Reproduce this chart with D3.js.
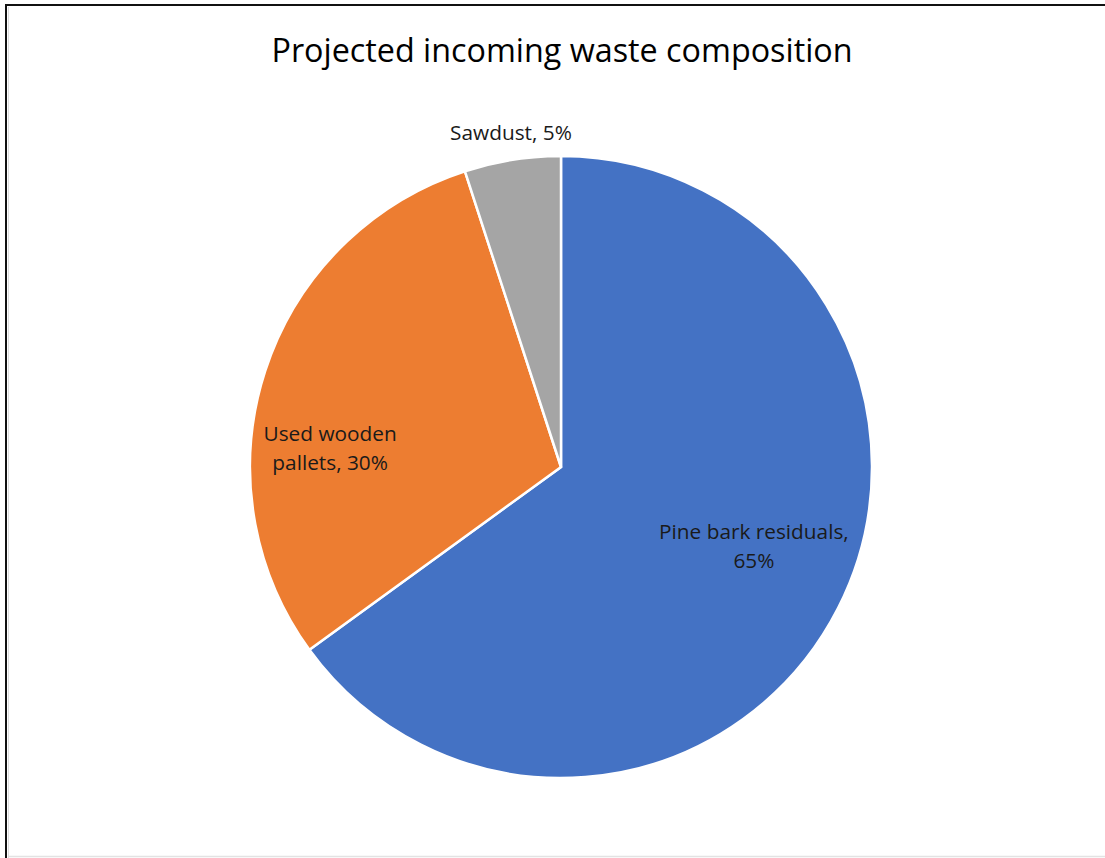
<!DOCTYPE html>
<html><head><meta charset="utf-8">
<script src="https://cdn.jsdelivr.net/npm/d3@7"></script>
<style>html,body{margin:0;padding:0;background:#fff;}svg{display:block;}</style>
</head><body>
<svg id="chart" width="1105" height="858"></svg>
<script>
const categories = ["Pine bark residuals", "Used wooden pallets", "Sawdust"];
const values = [65, 30, 5];
const colors = ["#4472C4", "#ED7D31", "#A5A5A5"];
const labelLines = [["Pine bark residuals,", "65%"], ["Used wooden", "pallets, 30%"], ["Sawdust, 5%"]];
const title = "Projected incoming waste composition";

// layout
const W = 1105, H = 858;
const cx = 561, cy = 467, R = 311;
// label placement: radius fraction along slice mid-angle, plus nudge
const labelPlace = [
  {rf: 0.66, dx: 10, dy: -13},
  {rf: 0.74, dx: -12, dy: 54},
  {rf: 1.09, dx: 3, dy: 2}
];
const font = "'Open Sans', 'Noto Sans', sans-serif";

const svg = d3.select("#chart");
svg.append("rect").attr("x",0).attr("y",0).attr("width",W).attr("height",H).attr("fill","#fff");
// frame (cropped screenshot look)
svg.append("line").attr("x1",5).attr("x2",W).attr("y1",5).attr("y2",5).attr("stroke","#111").attr("stroke-width",2);
svg.append("line").attr("x1",6).attr("x2",6).attr("y1",4).attr("y2",H).attr("stroke","#111").attr("stroke-width",2);
svg.append("line").attr("x1",8).attr("x2",W).attr("y1",856.5).attr("y2",856.5).attr("stroke","#e3e3e3").attr("stroke-width",1.5);
svg.append("line").attr("x1",8.5).attr("x2",8.5).attr("y1",7).attr("y2",H).attr("stroke","#dcdcdc").attr("stroke-width",1);

svg.append("text").attr("x",cx+1).attr("y",62).attr("text-anchor","middle")
  .attr("font-family",font).attr("font-size",32.3).attr("fill","#000").text(title);

const data = categories.map((c,i)=>({name:c, value:values[i], color:colors[i], lines:labelLines[i], place:labelPlace[i]}));
const pie = d3.pie().value(d=>d.value).sort(null);
const arcs = pie(data);
const arc = d3.arc().innerRadius(0).outerRadius(R);

const g = svg.append("g").attr("transform",`translate(${cx},${cy})`);
g.selectAll("path").data(arcs).join("path")
  .attr("d",arc).attr("fill",d=>d.data.color)
  .attr("stroke","#fff").attr("stroke-width",2.5).attr("stroke-linejoin","miter");

const lh = 29;
arcs.forEach(a=>{
  const p = a.data.place;
  const la = d3.arc().innerRadius(R*p.rf).outerRadius(R*p.rf);
  const [x,y] = la.centroid(a);
  const t = g.append("text").attr("text-anchor","middle")
    .attr("font-family",font).attr("font-size",20.8).attr("fill","#1a1a1a");
  const n = a.data.lines.length;
  a.data.lines.forEach((ln,i)=>{
    t.append("tspan").attr("x",x+p.dx).attr("y",y+p.dy+(i-(n-1)/2)*lh+6).text(ln);
  });
});
</script>
</body></html>
